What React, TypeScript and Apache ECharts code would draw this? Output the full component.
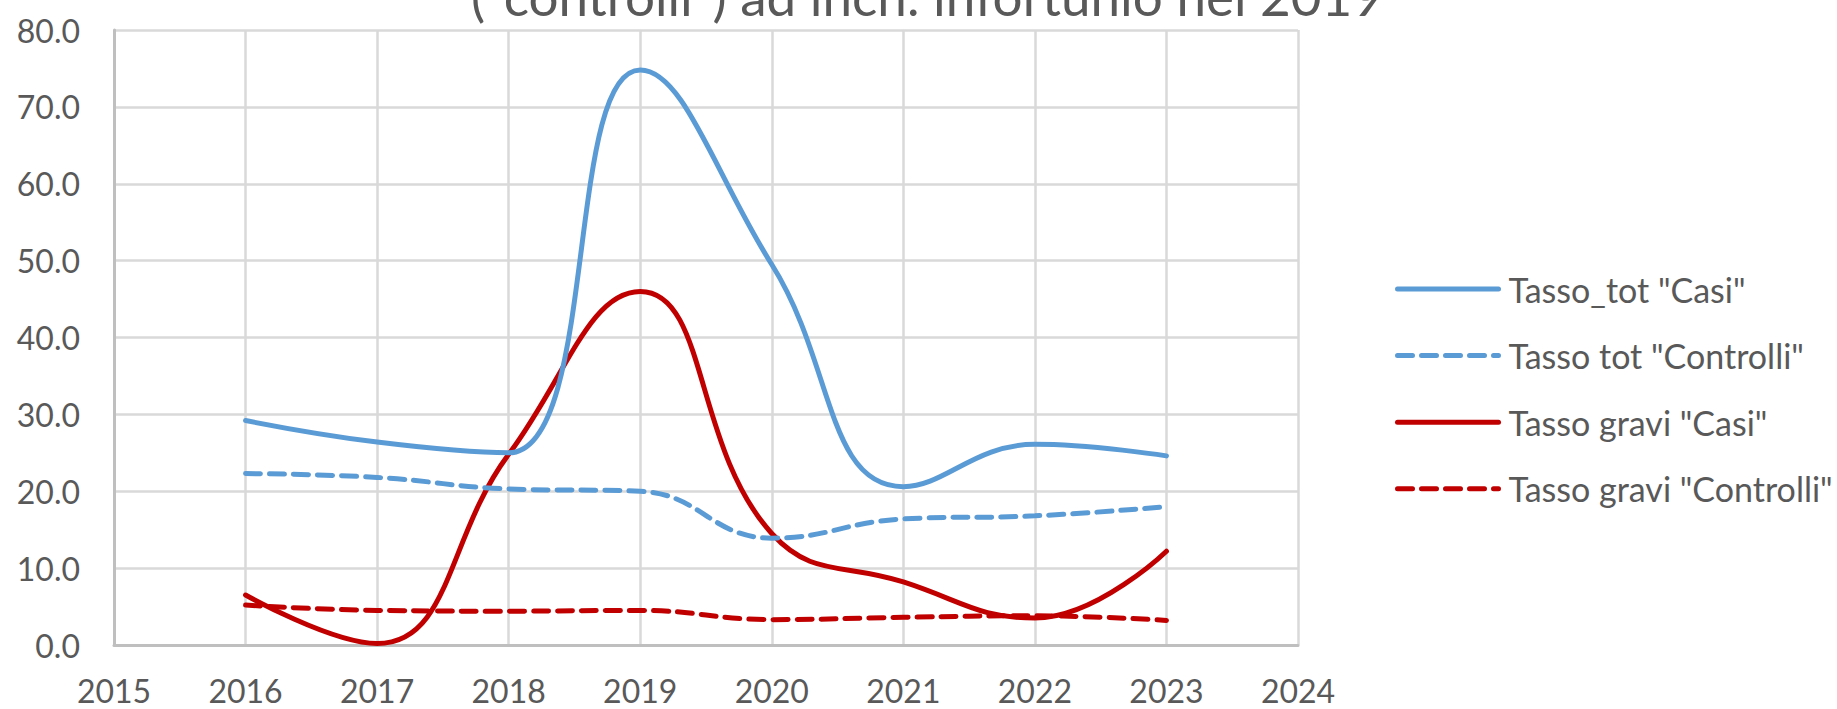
import React, { useEffect, useRef } from 'react';
import * as echarts from 'echarts';

const years = [2016, 2017, 2018, 2019, 2020, 2021, 2022, 2023];
const tassoTotCasi = [29.2, 26.4, 25.0, 74.8, 49.5, 20.6, 26.1, 24.6];
const tassoTotControlli = [22.3, 21.8, 20.3, 20.0, 13.9, 16.4, 16.8, 18.0];
const tassoGraviCasi = [6.5, 0.2, 24.8, 46.0, 14.5, 8.2, 3.5, 12.2];
const tassoGraviControlli = [5.2, 4.5, 4.4, 4.5, 3.3, 3.6, 3.8, 3.2];
const seriesNames = [
  'Tasso_tot "Casi"',
  'Tasso tot "Controlli"',
  'Tasso gravi "Casi"',
  'Tasso gravi "Controlli"',
];
const titleText = '("controlli") ad inch. infortunio nel 2019';
const xMin = 2015;
const xMax = 2024;
const yMin = 0;
const yMax = 80;

const BLUE = '#5B9BD5';
const RED = '#C00000';
const TEXT = '#595959';
const FONT = 'Lato';

export default function App() {
  const ref = useRef<HTMLDivElement>(null);
  useEffect(() => {
    document.body.style.margin = '0';
    if (!ref.current) return;
    const chart = echarts.init(ref.current, null, { renderer: 'svg' });
    const values = [tassoTotCasi, tassoTotControlli, tassoGraviCasi, tassoGraviControlli];
    const colors = [BLUE, BLUE, RED, RED];
    const dashed = [false, true, false, true];
    const series = values.map((vals, k) => ({
      name: seriesNames[k],
      type: 'line',
      data: years.map((y, i) => [y, vals[i]]),
      smooth: 0.45,
      symbol: 'none',
      showSymbol: false,
      itemStyle: { color: colors[k] },
      lineStyle: {
        color: colors[k],
        width: 5,
        type: dashed[k] ? [15, 9] : 'solid',
        cap: 'round',
      },
      z: 10 - k,
    }));
    chart.setOption({
      animation: false,
      backgroundColor: '#ffffff',
      title: {
        text: titleText,
        left: 927,
        top: -31,
        textAlign: 'center',
        padding: 0,
        textStyle: { fontFamily: FONT, fontSize: 53, fontWeight: 'normal', color: TEXT },
      },
      grid: { left: 114, right: 539, top: 30, bottom: 64, containLabel: false },
      xAxis: {
        type: 'value',
        min: xMin,
        max: xMax,
        interval: 1,
        axisLine: { show: true, lineStyle: { color: '#bfbfbf', width: 3 } },
        axisTick: { show: false },
        splitLine: { show: true, lineStyle: { color: '#d9d9d9', width: 2.5 } },
        axisLabel: {
          formatter: (v: number) => String(v),
          fontFamily: FONT,
          fontSize: 32,
          color: TEXT,
          margin: 29,
          showMinLabel: true,
          showMaxLabel: true,
        },
      },
      yAxis: {
        type: 'value',
        min: yMin,
        max: yMax,
        interval: 10,
        axisLine: { show: true, lineStyle: { color: '#bfbfbf', width: 3 } },
        axisTick: { show: false },
        splitLine: { show: true, lineStyle: { color: '#d9d9d9', width: 2.5 } },
        axisLabel: {
          formatter: (v: number) => v.toFixed(1),
          fontFamily: FONT,
          fontSize: 32,
          color: TEXT,
          margin: 34,
        },
      },
      legend: {
        orient: 'vertical',
        left: 1390,
        top: 267,
        itemWidth: 101,
        itemHeight: 30,
        itemGap: 32.6,
        itemStyle: { opacity: 0 },
        lineStyle: { width: 5 },
        textStyle: { fontFamily: FONT, fontSize: 34, color: TEXT, padding: [0, 0, 0, 5], lineHeight: 30 },
        data: seriesNames,
      },
      series,
    });
    return () => chart.dispose();
  }, []);
  return <div ref={ref} style={{ width: 1837, height: 709 }} />;
}
